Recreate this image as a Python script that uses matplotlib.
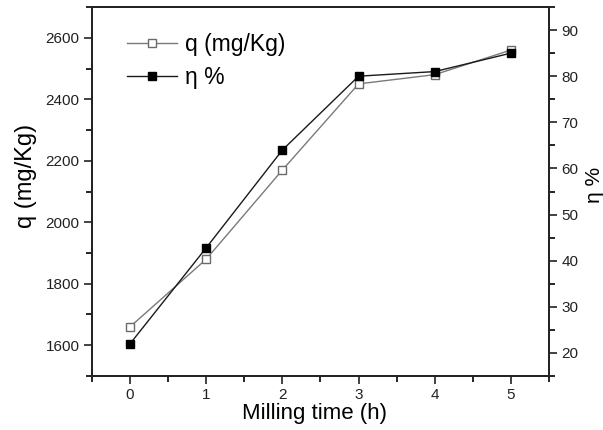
import matplotlib
matplotlib.use("Agg")
import matplotlib.pyplot as plt
from matplotlib.ticker import MultipleLocator

plt.rcParams['font.family'] = ['Liberation Sans', 'DejaVu Sans']

milling_time = [0, 1, 2, 3, 4, 5]
q_values = [1660, 1880, 2170, 2450, 2480, 2560]
eta_values = [22, 42.8, 64, 80, 81, 85]

fig = plt.figure(figsize=(6.03, 4.30), dpi=100)
ax = fig.add_axes([0.1526, 0.1256, 0.7578, 0.8581])
ax2 = ax.twinx()

l1, = ax.plot(milling_time, q_values, color='#7a7a7a', lw=1.0, marker='s', ms=5.5,
              mfc='white', mec='#6a6a6a', mew=1.0, label='q (mg/Kg)')
l2, = ax2.plot(milling_time, eta_values, color='#1a1a1a', lw=1.0, marker='s', ms=5.5,
               mfc='black', mec='black', label='η %')

ax.set_xlim(-0.5, 5.5)
ax.set_ylim(1500, 2700)
ax2.set_ylim(15, 95)

ax.xaxis.set_major_locator(MultipleLocator(1))
ax.xaxis.set_minor_locator(MultipleLocator(0.5))
ax.yaxis.set_major_locator(MultipleLocator(200))
ax.yaxis.set_minor_locator(MultipleLocator(100))
ax2.yaxis.set_major_locator(MultipleLocator(10))
ax2.yaxis.set_minor_locator(MultipleLocator(5))

for a in (ax, ax2):
    a.tick_params(which='major', direction='out', length=6, width=1.2, labelsize=11,
                  pad=3, colors='#222222')
    a.tick_params(which='minor', direction='out', length=4, width=1.2)
    for s in a.spines.values():
        s.set_linewidth(1.3)
        s.set_color('#222222')
ax.tick_params(top=False, which='both')
ax2.tick_params(top=False, which='both')

ax.set_xlabel('Milling time (h)', fontsize=16)
ax.set_ylabel('q (mg/Kg)', fontsize=17)
ax2.set_ylabel('η %', fontsize=15, rotation=90)
ax.xaxis.set_label_coords(0.486, -0.072)
ax.yaxis.set_label_coords(-0.120, 0.542)
ax2.yaxis.set_label_coords(1.079, 0.518)

ax.legend(handles=[l1, l2], loc='upper left', bbox_to_anchor=(0.0766, 0.93), frameon=False,
          fontsize=16.5, handlelength=2.2, handletextpad=0.35, labelspacing=0.45,
          borderpad=0, borderaxespad=0)

fig.savefig('out.png', dpi=100)
